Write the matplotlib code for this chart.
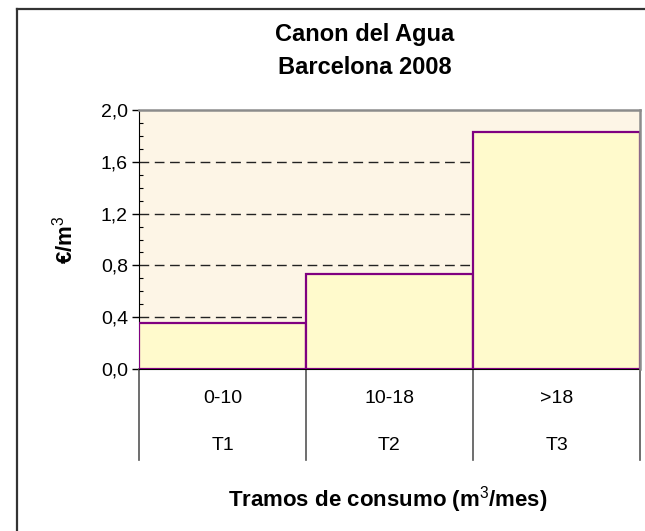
import matplotlib
matplotlib.use("Agg")
import matplotlib.pyplot as plt
from matplotlib.lines import Line2D
from matplotlib.ticker import FuncFormatter, MultipleLocator

plt.rcParams['font.family'] = ['Liberation Sans', 'DejaVu Sans']
plt.rcParams['mathtext.fontset'] = 'custom'
plt.rcParams['mathtext.rm'] = 'Liberation Sans'
plt.rcParams['mathtext.bf'] = 'Liberation Sans:bold'

# tariff bands and the water levy per band (EUR/m3)
tramos = ["T1", "T2", "T3"]
rangos = ["0-10", "10-18", ">18"]
canon = [0.353, 0.733, 1.83]

W, H = 645, 531
fig = plt.figure(figsize=(W / 100, H / 100), dpi=100)
fig.patch.set_facecolor("white")

# chart frame (only top/left edges fall inside the image)
fig.add_artist(Line2D([16.5 / W, 16.5 / W], [0, 1 - 8.5 / H], color="#333333", lw=1.6))
fig.add_artist(Line2D([16.5 / W, 1], [1 - 8.5 / H, 1 - 8.5 / H], color="#333333", lw=1.6))

ax = fig.add_axes([139 / W, 1 - 369 / H, (640 - 139) / W, (369 - 110) / H])
ax.set_facecolor("#FDF5E6")

x = [i + 0.5 for i in range(len(canon))]
ax.bar(x, canon, width=1.0, color="#FFFACC", edgecolor="#800080", linewidth=1.6, zorder=3)

ax.set_xlim(0, 3)
ax.set_ylim(0, 2.0)

ax.yaxis.set_major_locator(MultipleLocator(0.4))
ax.yaxis.set_minor_locator(MultipleLocator(0.1))
ax.yaxis.set_major_formatter(FuncFormatter(lambda v, p: f"{v:.1f}".replace(".", ",")))
ax.tick_params(axis="y", which="major", direction="out", length=5, width=1, labelsize=14, pad=3)
ax.tick_params(axis="y", which="minor", direction="in", length=3, width=0.8)

ax.set_xticks([0, 1, 2, 3])
ax.set_xticklabels([])
ax.set_xticks(x, minor=True)
ax.tick_params(axis="x", which="major", length=0)
ax.tick_params(axis="x", which="minor", direction="in", length=3, width=0.8)

for v in (0.4, 0.8, 1.2, 1.6):
    ax.axhline(v, color="#222222", lw=1.0, ls=(0, (7, 4)), zorder=1)

for side in ("top", "right"):
    ax.spines[side].set_color("#8C8C8C")
    ax.spines[side].set_linewidth(1.8)
ax.spines["left"].set_color("black")
ax.spines["bottom"].set_color("black")
ax.spines["right"].set_zorder(4)

# category table under the axis
tr = ax.get_xaxis_transform()
for b in range(len(canon) + 1):
    ax.plot([b, b], [0, -0.35], color="#555555", lw=1.2, transform=tr, clip_on=False)
for xi, r, t in zip(x, rangos, tramos):
    ax.text(xi, -0.112, r, transform=tr, ha="center", va="center", fontsize=14)
    ax.text(xi, -0.297, t, transform=tr, ha="center", va="center", fontsize=14)

fig.text(365 / W, 1 - 35 / H, "Canon del Agua", ha="center", va="center", fontsize=17, fontweight="bold")
fig.text(365 / W, 1 - 67 / H, "Barcelona 2008", ha="center", va="center", fontsize=17, fontweight="bold")
fig.text(65 / W, 1 - 240 / H, "€/m$^{3}$", rotation=90, ha="center", va="center",
         fontsize=16, fontweight="bold")
fig.text(388 / W, 1 - 500 / H, "Tramos de consumo (m$^{3}$/mes)", ha="center", va="center",
         fontsize=16, fontweight="bold")

fig.savefig("out.png", dpi=100)
